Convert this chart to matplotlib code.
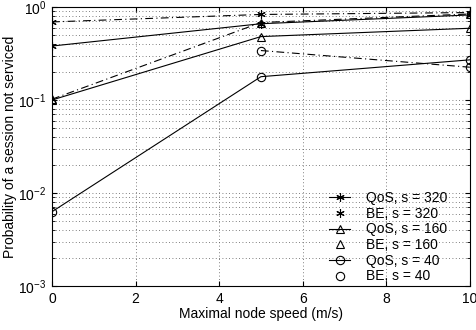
import matplotlib
matplotlib.use("Agg")
import matplotlib.pyplot as plt
from matplotlib.lines import Line2D
import numpy as np

plt.rcParams["font.family"] = ["Liberation Sans", "DejaVu Sans"]
plt.rcParams["font.size"] = 10

speed = [0, 5, 10]
qos_320 = [0.38, 0.66, 0.82]
be_320 = [0.69, 0.83, 0.87]
qos_160 = [0.10, 0.48, 0.59]
be_160 = [0.102, 0.68, 0.84]
qos_40 = [0.0063, 0.178, 0.27]
be_40 = [np.nan, 0.34, 0.225]
labels = ["QoS, s = 320", "BE, s = 320", "QoS, s = 160",
          "BE, s = 160", "QoS, s = 40", "BE, s = 40"]

asterisk = (6, 2, 0)
dashdot = (0, (7, 3, 1, 3))

fig = plt.figure(figsize=(4.77, 3.3), dpi=100)
ax = fig.add_axes([0.109, 0.133, 0.876, 0.846])

style = dict(color="black", lw=0.8, ms=6, mfc="none", mec="black", mew=0.8)
series = [(qos_320, "-", asterisk), (be_320, dashdot, asterisk),
          (qos_160, "-", "^"), (be_160, dashdot, "^"),
          (qos_40, "-", "o"), (be_40, dashdot, "o")]
handles = []
for (vals, ls, mk), lab in zip(series, labels):
    ax.plot(speed, vals, ls=ls, marker=mk, **style)
    # legend: BE entries show only the marker
    handles.append(Line2D([], [], ls="-" if ls == "-" else "none", marker=mk, **style))

ax.set_yscale("log")
ax.set_xlim(0, 10)
ax.set_ylim(1e-3, 1)
ax.set_xticks([0, 2, 4, 6, 8, 10])
grid_ls = (0, (1, 3))
ax.grid(True, which="major", ls=grid_ls, color="#555555", lw=0.6)
ax.grid(True, which="minor", axis="y", ls=grid_ls, color="#555555", lw=0.6)
ax.tick_params(which="both", direction="in", top=True, right=True, pad=4)
for s in ax.spines.values():
    s.set_linewidth(0.8)

ax.set_xlabel("Maximal node speed (m/s)", labelpad=1)
ax.set_ylabel("Probability of a session not serviced", labelpad=1)

ax.legend(handles, labels, loc="lower right", bbox_to_anchor=(0.975, -0.035),
          frameon=False, handlelength=1.5, labelspacing=0.12,
          handletextpad=1.1, fontsize=10)

fig.savefig("out.png", dpi=100)
